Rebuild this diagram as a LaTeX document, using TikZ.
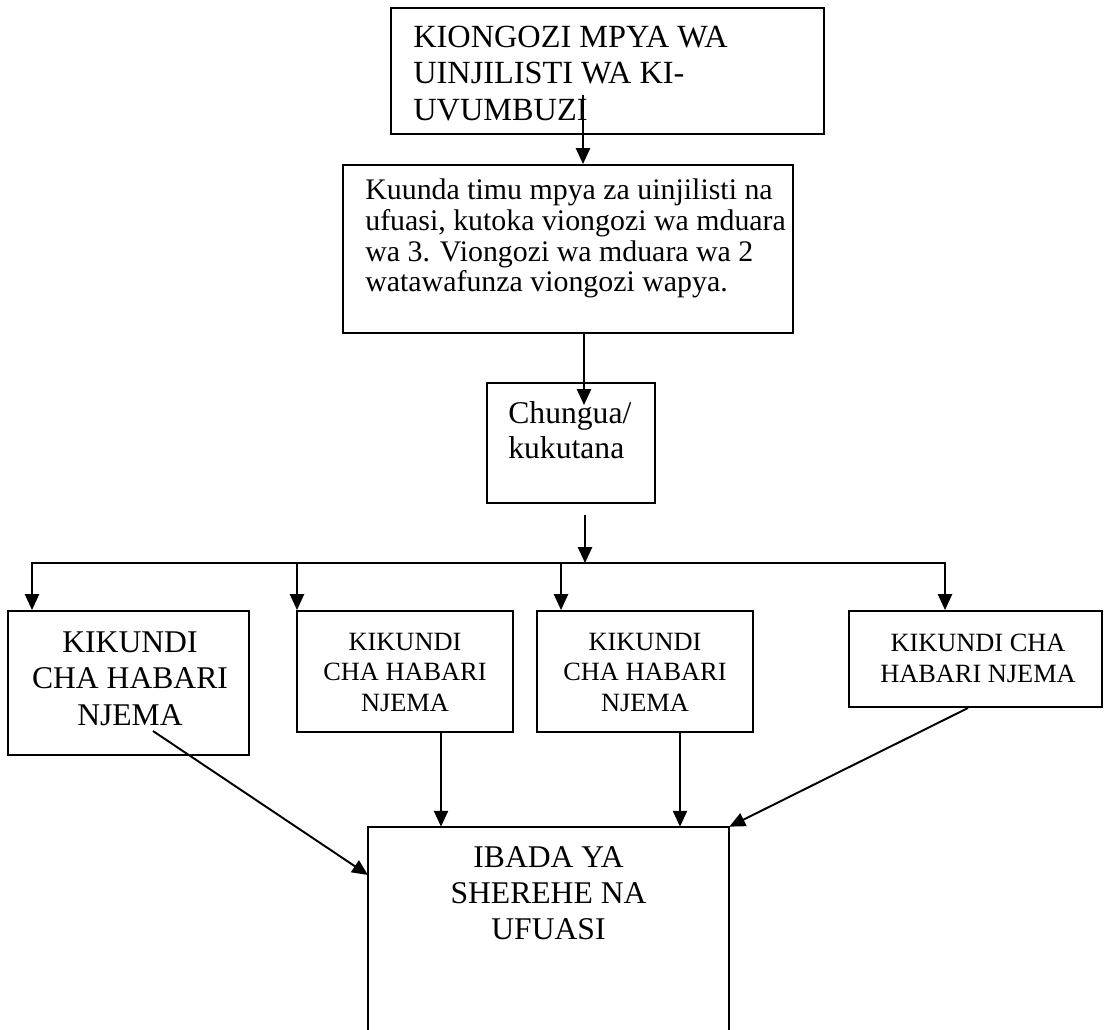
\documentclass[tikz,border=0pt]{standalone}
\usepackage{fontspec}
\setmainfont{Liberation Serif}
\usetikzlibrary{arrows.meta,fit}

\begin{document}
\begin{tikzpicture}[x=0.02cm,y=-0.02cm,
    box/.style={draw,line width=1.1pt,inner sep=0pt},
    txt/.style={inner sep=0pt,align=left},
    ctxt/.style={inner sep=0pt,align=center},
    arr/.style={line width=1.1pt,-{Triangle[length=9pt,width=8pt]}},
    arrs/.style={line width=1.1pt,{Triangle[length=9pt,width=8pt]}-{Triangle[length=9pt,width=8pt]}}]
  \useasboundingbox (0,0) rectangle (1105,1029);

  % boxes
  \node[box,fit={(391,8) (824,134)}] (kiongozi) {};
  \node[box,fit={(343,165) (793,333)}] (kuunda) {};
  \node[box,fit={(487,383) (655,503)}] (chungua) {};
  \node[box,fit={(8,611) (249,755)}] (k1) {};
  \node[box,fit={(297,611) (513,732)}] (k2) {};
  \node[box,fit={(537,611) (753,732)}] (k3) {};
  \node[box,fit={(849,611) (1102,707)}] (k4) {};
  \node[inner sep=0pt,fit={(368,827) (729,1040)}] (ibada) {};
  \draw[line width=1.1pt] (ibada.south west) |- (ibada.north east) -- (ibada.south east);

  % texts
  \node[txt,anchor=north west,font=\fontsize{18.4}{20.5}\selectfont] (kiongozi-t) at (413,26.2)
    {KIONGOZI MPYA WA\\UINJILISTI WA KI-\\UVUMBUZI};
  \node[txt,anchor=north west,font=\fontsize{17}{17.5}\selectfont] (kuunda-t) at (365,178.5)
    {Kuunda timu mpya za uinjilisti na\\ufuasi, kutoka viongozi wa mduara\\wa 3. Viongozi wa mduara wa 2\\watawafunza viongozi wapya.};
  \node[txt,anchor=north west,font=\fontsize{18}{20}\selectfont] (chungua-t) at (508,401.4)
    {Chungua/\\kukutana};
  \node[ctxt,anchor=north,font=\fontsize{18}{20.8}\selectfont] (k1-t) at (130,631)
    {KIKUNDI\\CHA HABARI\\NJEMA};
  \node[ctxt,anchor=north,font=\fontsize{15}{17.5}\selectfont] (k2-t) at (405,632.5)
    {KIKUNDI\\CHA HABARI\\NJEMA};
  \node[ctxt,anchor=north,font=\fontsize{15}{17.5}\selectfont] (k3-t) at (645,632.5)
    {KIKUNDI\\CHA HABARI\\NJEMA};
  \node[ctxt,anchor=north,font=\fontsize{15}{17.5}\selectfont] (k4-t) at (978,634)
    {KIKUNDI CHA\\HABARI NJEMA};
  \node[ctxt,anchor=north,font=\fontsize{18}{20.5}\selectfont] (ibada-t) at (548.5,846)
    {IBADA YA\\SHEREHE NA\\UFUASI};

  % arrows
  \coordinate (a1) at (583,95);
  \draw[arr] (a1) -- (a1 |- kuunda.north);
  \coordinate (a2) at (584,405);
  \draw[arr] (a2 |- kuunda.south) -- (a2);
  \coordinate (a3) at (585,515);
  \coordinate (bus) at (585,563);
  \draw[arr] (a3) -- (bus);

  \foreach \x [count=\i] in {32,297,561,945}
    \coordinate (b\i) at (\x,563);
  \draw[arrs] (b1 |- k1.north) -- (b1) -- (b4) -- (b4 |- k4.north);
  \foreach \i in {2,3}
    \draw[arr] (b\i) -- (b\i |- k\i.north);

  \draw[arr] (k2.south -| 441,0) -- (ibada.north -| 441,0);
  \draw[arr] (k3.south -| 680,0) -- (ibada.north -| 680,0);
  \coordinate (d1) at (153,731);
  \coordinate (e1) at (368,875);
  \draw[arr] (d1) -- (e1);
  \draw[arr] (k4.south -| 968,0) -- (ibada.north east);
\end{tikzpicture}
\end{document}
